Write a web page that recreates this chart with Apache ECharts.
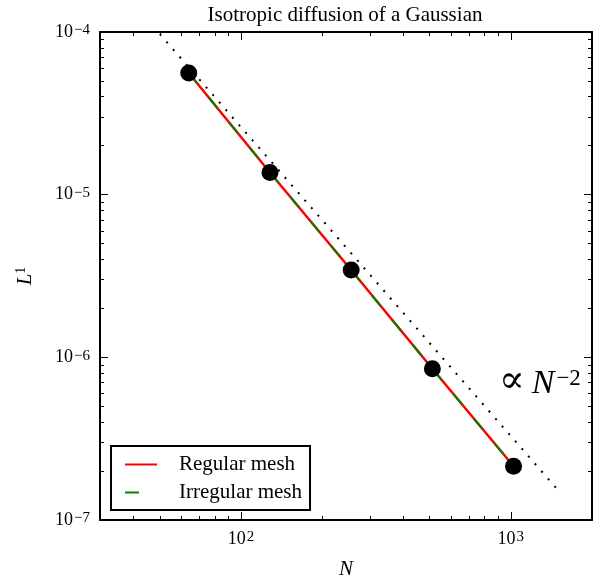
<!DOCTYPE html>
<html><head><meta charset="utf-8">
<script src="https://cdn.jsdelivr.net/npm/echarts@6/dist/echarts.min.js"></script>
<style>html,body{margin:0;padding:0;background:#fff}#c{width:599px;height:585px}</style>
</head><body><div id="c"></div>
<script>
// ---- data ----
const N = [64, 128, 256, 512, 1024];
const regularMesh = [5.6e-5, 1.37e-5, 3.44e-6, 8.5e-7, 2.14e-7];
const irregularMesh = [5.6e-5, 1.37e-5, 3.44e-6, 8.5e-7, 2.14e-7];
const refN = [50, 1500];
const refL = [9.7e-5, 1.52e-7];
const xMajorTicks = [100, 1000];
const xMinorTicks = [40, 50, 60, 70, 80, 90, 200, 300, 400, 500, 600, 700, 800, 900];
const yMajorTicks = [1e-7, 1e-6, 1e-5, 1e-4];
const yMinorTicks = [2e-7, 3e-7, 4e-7, 5e-7, 6e-7, 7e-7, 8e-7, 9e-7,
                     2e-6, 3e-6, 4e-6, 5e-6, 6e-6, 7e-6, 8e-6, 9e-6,
                     2e-5, 3e-5, 4e-5, 5e-5, 6e-5, 7e-5, 8e-5, 9e-5];
const titleText = 'Isotropic diffusion of a Gaussian';
const seriesNames = ['Regular mesh', 'Irregular mesh'];

const FONT = "'Liberation Serif', 'DejaVu Serif', serif";
const zip = (a, b) => a.map((v, i) => [v, b[i]]);
const powLabel = v => {
  const e = Math.round(Math.log10(v));
  return '{b|10}{s|' + (e < 0 ? '\u2212' + (-e) : e) + '}';
};
const labelRich = {
  b: {fontFamily: FONT, fontSize: 18, color: '#000', lineHeight: 18, verticalAlign: 'bottom'},
  s: {fontFamily: FONT, fontSize: 15, color: '#000', lineHeight: 18, verticalAlign: 'top', padding: [0, 0, 7, 1]}
};

const xRange = {type: 'log', logBase: 10, min: 30, max: 2000, gridIndex: 0, splitLine: {show: false}};
const yRange = {type: 'log', logBase: 10, min: 1e-7, max: 1e-4, gridIndex: 0, splitLine: {show: false}};
const frameLine = {show: true, lineStyle: {color: '#000', width: 2}};

function xAxisDef(pos, major, showLabel) {
  return Object.assign({}, xRange, {
    position: pos,
    axisLine: major ? frameLine : {show: false},
    axisTick: {show: true, inside: true, length: major ? 8 : 4,
      customValues: major ? xMajorTicks : xMinorTicks, lineStyle: {color: '#000', width: 1}},
    axisLabel: showLabel ? {show: true, customValues: xMajorTicks, formatter: powLabel, margin: 10, rich: labelRich}
                         : {show: false}
  });
}
function yAxisDef(pos, major, showLabel) {
  return Object.assign({}, yRange, {
    position: pos,
    axisLine: major ? frameLine : {show: false},
    axisTick: {show: true, inside: true, length: major ? 8 : 4,
      customValues: major ? yMajorTicks : yMinorTicks, lineStyle: {color: '#000', width: 1}},
    axisLabel: showLabel ? {show: true, customValues: yMajorTicks, formatter: powLabel, margin: 10, rich: labelRich}
                         : {show: false}
  });
}

const xAxes = [xAxisDef('bottom', true, true), xAxisDef('bottom', false, false),
               xAxisDef('top', true, false), xAxisDef('top', false, false)];
xAxes[0].name = 'N';
xAxes[0].nameLocation = 'middle';
xAxes[0].nameGap = 39;
xAxes[0].nameTextStyle = {fontFamily: FONT, fontSize: 21, fontStyle: 'italic', color: '#000'};

const yAxes = [yAxisDef('left', true, true), yAxisDef('left', false, false),
               yAxisDef('right', true, false), yAxisDef('right', false, false)];
yAxes[0].name = '{i|L}{s|1}';
yAxes[0].nameLocation = 'middle';
yAxes[0].nameGap = 64;
yAxes[0].nameTextStyle = {
  rich: {
    i: {fontFamily: FONT, fontSize: 21, fontStyle: 'italic', color: '#000', lineHeight: 22, verticalAlign: 'bottom'},
    s: {fontFamily: FONT, fontSize: 14, color: '#000', lineHeight: 22, verticalAlign: 'top', padding: [0, 0, 6, 0]}
  }
};

const chart = echarts.init(document.getElementById('c'), null, {renderer: 'canvas'});
chart.setOption({
  animation: false,
  backgroundColor: '#fff',
  title: {
    text: titleText, left: 340, top: 0, textAlign: 'center',
    textStyle: {fontFamily: FONT, fontSize: 21, fontWeight: 'normal', color: '#000'}
  },
  grid: {left: 100, top: 32, right: 7, bottom: 63, containLabel: false},
  xAxis: xAxes,
  yAxis: yAxes,
  legend: {
    data: seriesNames,
    orient: 'vertical', left: 111, top: 446,
    padding: [8, 8, 7, 13], itemGap: 7, itemWidth: 32, itemHeight: 14,
    borderColor: '#000', borderWidth: 2, borderRadius: 0, backgroundColor: '#fff',
    itemStyle: {opacity: 0},
    textStyle: {fontFamily: FONT, fontSize: 21, color: '#000', lineHeight: 18, padding: [0, 0, 0, 17]}
  },
  series: [
    {
      name: 'ref', type: 'line', data: zip(refN, refL), symbol: 'none', silent: true,
      lineStyle: {color: '#000', width: 2, type: [2, 8]}, z: 1
    },
    {
      name: seriesNames[0], type: 'line', data: zip(N, regularMesh), symbol: 'none',
      lineStyle: {color: '#ff0000', width: 2.5, type: 'solid'}, itemStyle: {color: '#ff0000', opacity: 0}, z: 2
    },
    {
      name: seriesNames[1], type: 'line', data: zip(N, irregularMesh), symbol: 'none',
      lineStyle: {color: '#008000', width: 2, type: [14, 18]}, itemStyle: {color: '#008000', opacity: 0}, z: 3
    },
    {
      name: 'points', type: 'scatter', data: zip(N, regularMesh), symbol: 'circle', symbolSize: 17,
      itemStyle: {color: '#000', opacity: 1}, z: 4
    }
  ],
  graphic: [{
    type: 'text', x: 499, y: 384,
    style: {
      text: '{a|\u221D}{n|N}{s|\u22122}',
      textVerticalAlign: 'middle',
      rich: {
        a: {fontFamily: FONT, fontSize: 38, color: '#000', lineHeight: 34, verticalAlign: 'bottom', padding: [0, 7, 0, 0]},
        n: {fontFamily: FONT, fontSize: 34, fontStyle: 'italic', color: '#000', lineHeight: 34, verticalAlign: 'bottom', padding: [0, 2, 0, 0]},
        s: {fontFamily: FONT, fontSize: 23, color: '#000', lineHeight: 34, verticalAlign: 'top', padding: [0, 0, 12, 0]}
      }
    }
  }]
});
</script></body></html>
